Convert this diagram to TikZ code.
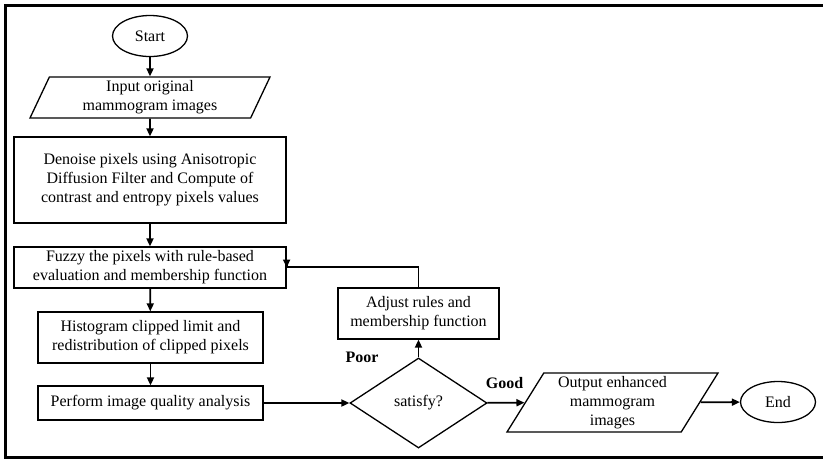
\documentclass[tikz,border=0pt]{standalone}
\usepackage{fontspec}
\setmainfont{Liberation Serif}
\usetikzlibrary{shapes.geometric,arrows.meta}
\begin{document}
\begin{tikzpicture}[x=1pt,y=-1pt,
  every node/.style={font=\fontsize{16}{19}\selectfont,align=center,inner sep=0pt,line width=1.3pt},
  procbox/.style={draw,rectangle},
  termnode/.style={draw,ellipse,minimum width=75pt,minimum height=41pt},
  ionode/.style={draw,trapezium,trapezium stretches body=true},
  conn/.style={line width=1.8pt,-{Triangle[length=8pt,width=7pt]}}]
  \useasboundingbox (0,0) rectangle (823,459);
  \draw[line width=3pt] (823,5) -- (5,5) -- (5,457.5) -- (823,457.5);
  % main column
  \node[termnode] (start) at (150,36) {Start};
  \node[ionode,trapezium left angle=60,trapezium right angle=120,minimum width=240pt,minimum height=41pt] (input) at (150,97.5) {Input original\\mammogram images};
  \node[procbox,minimum width=272pt,minimum height=86pt] (denoise) at (150,180) {Denoise pixels using Anisotropic\\Diffusion Filter and Compute of\\contrast and entropy pixels values};
  \node[procbox,minimum width=272pt,minimum height=41pt] (fuzzy) at (150,267.5) {Fuzzy the pixels with rule-based\\evaluation and membership function};
  \node[procbox,minimum width=225pt,minimum height=51pt] (hist) at (150.5,337.5) {Histogram clipped limit and\\redistribution of clipped pixels};
  \node[procbox,minimum width=225pt,minimum height=34pt] (quality) at (150.5,403) {Perform image quality analysis};
  % decision and loop
  \node[draw,diamond,minimum width=137pt,minimum height=90pt] (check) at (418.5,403) {satisfy?};
  \node[procbox,minimum width=161pt,minimum height=51pt] (adjust) at (418.5,313.5) {Adjust rules and\\membership function};
  \node[ionode,trapezium left angle=55,trapezium right angle=125,minimum width=211pt,minimum height=59pt] (output) at (612.5,402.5) {Output enhanced\\mammogram\\images};
  \node[termnode] (finish) at (778,402) {End};
  \node[font=\fontsize{16}{19}\selectfont\bfseries] (poor) at (362,357) {Poor};
  \node[font=\fontsize{16}{19}\selectfont\bfseries] (good) at (504.5,383) {Good};
  \foreach \a/\b in {start/input,input/denoise,denoise/fuzzy,fuzzy/hist,hist/quality}
    \draw[conn] (\a) -- (\b);
  \draw[conn] (quality) -- (check);
  \draw[conn] (check) -- (adjust);
  \draw[conn] (adjust.north) -- ++(0,-20) -| (fuzzy.east);
  \draw[conn] (check) -- (output);
  \draw[conn] (output) -- (finish);
\end{tikzpicture}
\end{document}
